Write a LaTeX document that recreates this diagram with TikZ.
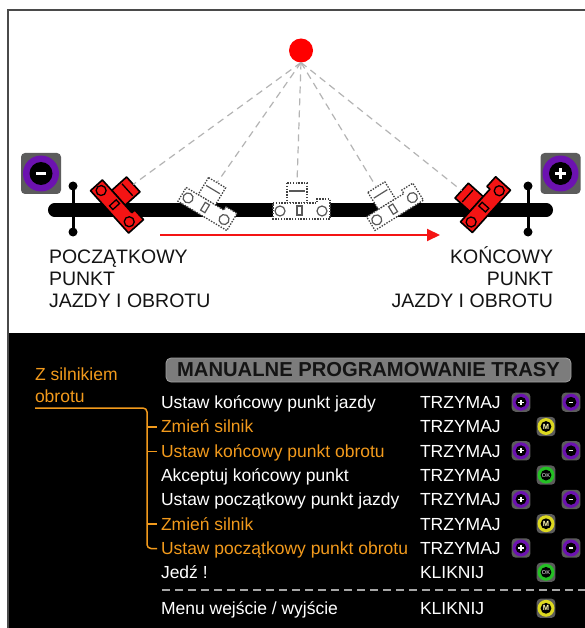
\documentclass[tikz,border=0pt]{standalone}
\usepackage{fontspec}
\setmainfont{Liberation Sans}
\usetikzlibrary{arrows.meta}

\definecolor{ringpurple}{HTML}{6C12B0}
\definecolor{keygray}{HTML}{5C5C5C}
\definecolor{camred}{HTML}{F41414}
\definecolor{motororange}{HTML}{F29A1C}
\definecolor{okgreen}{HTML}{24C024}
\definecolor{myellow}{HTML}{DCD820}
\definecolor{framegray}{HTML}{4A4A4A}
\definecolor{raygray}{HTML}{B4B4B4}
\definecolor{titlegray}{HTML}{7C7C7C}

% body of a round push key: grey plate, coloured ring, black centre
\newcommand{\drawkeybody}[1]{%
  \fill[keygray, rounded corners=4pt] (-20,-20.5) rectangle (20,20.5);
  \fill[#1] (0,0) circle (18);
  \fill[black] (0,0) circle (11.5);
}

\tikzset{
  every node/.style={inner sep=0pt, outer sep=0pt},
  toptext/.style={font=\fontsize{19.5}{22}\selectfont, text=black!92},
  rowtext/.style={font=\fontsize{17.5}{21}\selectfont, text=white, anchor=base west},
  motortext/.style={rowtext, text=motororange},
  titlebox/.style={fill=titlegray, draw=gray!75, line width=0.8pt, rounded corners=5pt,
    minimum width=405pt, minimum height=24pt, text=black!92,
    font=\bfseries\fontsize{20.2}{22}\selectfont},
  track/.style={line width=13pt, line cap=round, draw=black},
  stopbar/.style={line width=3pt, draw=black},
  ray/.style={draw=raygray, line width=1.2pt, dash pattern=on 7pt off 5pt},
  progress/.style={draw=camred, line width=2pt, -{Triangle[length=13pt,width=12pt]}},
  bracket/.style={draw=motororange, line width=1.5pt},
  separator/.style={draw=gray!70, line width=1.2pt, dash pattern=on 8pt off 5pt},
  lamp/.style={circle, fill=red, minimum size=24pt},
  cam shell/.style={},
  cam detail/.style={},
  redcam/.style={cam shell/.style={fill=camred, draw=black, line width=1.6pt, line join=round},
                 cam detail/.style={draw=black, line width=1.3pt}},
  ghostcam/.style={cam shell/.style={fill=white, draw=black!75, line width=1.3pt,
                     dash pattern=on 1.4pt off 1.4pt},
                   cam detail/.style={draw=black!65, line width=1.2pt}},
  pics/camera/.style={code={
    \path[cam shell] (-14.5,-28) rectangle (5.5,-8);
    \path[cam shell] (-28.5,-8) -- (15.5,-8) -- (15.5,-12) -- (28.5,-12)
        -- (28.5,8) -- (-28.5,8) -- cycle;
    \path[cam detail] (-12.5,-20) -- (3.5,-20);
    \path[cam detail] (-21.5,0) circle (5) (20.5,0) circle (5);
    \path[cam detail] (-4.5,-5) rectangle (0.5,4);
    \coordinate (-lens) at (-4.5,-28);
  }},
  pics/keyminus/.style={code={
    \drawkeybody{ringpurple}
    \fill[white] (-4.8,-1.4) rectangle (4.8,1.4);
  }},
  pics/keyplus/.style={code={
    \drawkeybody{ringpurple}
    \fill[white] (-5.5,-1.4) rectangle (5.5,1.4);
    \fill[white] (-1.4,-5.5) rectangle (1.4,5.5);
  }},
  pics/keymotor/.style={code={
    \drawkeybody{myellow}
    \node[text=white!70!yellow, font=\bfseries\fontsize{7.5}{8}\selectfont] (-lbl) at (0,0) {M};
  }},
  pics/keyok/.style={code={
    \drawkeybody{okgreen}
    \node[text=white, font=\fontsize{5.6}{6}\selectfont] (-lbl) at (0,0) {OK};
  }},
  smallkey/.style={scale=0.47},
}

\begin{document}
\begin{tikzpicture}[x=1pt,y=-1pt]
\useasboundingbox (0,0) rectangle (585,628);
\fill[white] (0,0) rectangle (585,628);

% lower panel
\fill[black] (7.5,333) rectangle (585,628);

% rail with end stops
\coordinate (railL) at (54.5,210);
\coordinate (railR) at (546.5,210);
\draw[track] (railL) -- (railR);
\draw[stopbar] (73,186) -- (73,232);
\fill (73,186) circle (4.5) (73,232) circle (4.5);
\draw[stopbar] (528,186) -- (528,232);
\fill (528,186) circle (4.5) (528,232) circle (4.5);

% camera positions along the rail
\pic[ghostcam, rotate=-31] (cA) at (206.5,209) {camera};
\pic[ghostcam] (cB) at (301.5,211) {camera};
\pic[ghostcam, rotate=32] (cC) at (395,208.5) {camera};
\pic[redcam, rotate=-48] (cL) at (115.5,206.5) {camera};
\pic[redcam, rotate=48] (cR) at (485.5,206) {camera};

% subject and sight lines
\node[lamp] (lamp) at (301,50.5) {};
\foreach \c in {cL,cA,cB,cC,cR}
  \draw[ray] (lamp.south) -- (\c-lens);

% direction of travel
\coordinate (arrS) at (160,235);
\coordinate (arrE) at (440,235);
\draw[progress] (arrS) -- (arrE);

% end point keys
\pic (kStart) at (41,173.5) {keyminus};
\pic (kEnd) at (560.5,173.5) {keyplus};

% end point labels
\node[toptext, anchor=base west] (s1) at (49,263) {POCZĄTKOWY};
\node[toptext, anchor=base west] (s2) at (49,285) {PUNKT};
\node[toptext, anchor=base west] (s3) at (49,307) {JAZDY I OBROTU};
\node[toptext, anchor=base east] (e1) at (553,263) {KOŃCOWY};
\node[toptext, anchor=base east] (e2) at (553,285) {PUNKT};
\node[toptext, anchor=base east] (e3) at (553,307) {JAZDY I OBROTU};

% programming table
\node[titlebox] (title) at (368.5,370) {MANUALNE PROGRAMOWANIE TRASY};

\node[motortext] (zs1) at (35,380) {Z silnikiem};
\node[motortext] (zs2) at (35,402) {obrotu};
\draw[bracket, rounded corners=4pt] (35,408) -- (147,408) -- (147,548.5) -- (157,548.5);
\draw[bracket] (147,427) -- (157,427);
\draw[bracket] (147,451.3) -- (157,451.3);
\draw[bracket] (147,524.2) -- (157,524.2);

\node[rowtext]   (r1) at (161,408.5) {Ustaw końcowy punkt jazdy};
\node[motortext] (r2) at (161,432.8) {Zmień silnik};
\node[motortext] (r3) at (161,457.1) {Ustaw końcowy punkt obrotu};
\node[rowtext]   (r4) at (161,481.4) {Akceptuj końcowy punkt};
\node[rowtext]   (r5) at (161,505.7) {Ustaw początkowy punkt jazdy};
\node[motortext] (r6) at (161,530.0) {Zmień silnik};
\node[motortext] (r7) at (161,554.3) {Ustaw początkowy punkt obrotu};
\node[rowtext]   (r8) at (161,578.6) {Jedź !};
\node[rowtext]   (r9) at (161,614.6) {Menu wejście / wyjście};

\node[rowtext] (a1) at (420,408.5) {TRZYMAJ};
\node[rowtext] (a2) at (420,432.8) {TRZYMAJ};
\node[rowtext] (a3) at (420,457.1) {TRZYMAJ};
\node[rowtext] (a4) at (420,481.4) {TRZYMAJ};
\node[rowtext] (a5) at (420,505.7) {TRZYMAJ};
\node[rowtext] (a6) at (420,530.0) {TRZYMAJ};
\node[rowtext] (a7) at (420,554.3) {TRZYMAJ};
\node[rowtext] (a8) at (420,578.6) {KLIKNIJ};
\node[rowtext] (a9) at (420,614.6) {KLIKNIJ};

\pic[smallkey] (k1p) at (521,402.2) {keyplus};
\pic[smallkey] (k1m) at (571,402.2) {keyminus};
\pic[smallkey] (k2)  at (546,426.5) {keymotor};
\pic[smallkey] (k3p) at (521,450.8) {keyplus};
\pic[smallkey] (k3m) at (571,450.8) {keyminus};
\pic[smallkey] (k4)  at (546,475.1) {keyok};
\pic[smallkey] (k5p) at (521,499.4) {keyplus};
\pic[smallkey] (k5m) at (571,499.4) {keyminus};
\pic[smallkey] (k6)  at (546,523.7) {keymotor};
\pic[smallkey] (k7p) at (521,548.0) {keyplus};
\pic[smallkey] (k7m) at (571,548.0) {keyminus};
\pic[smallkey] (k8)  at (546,572.3) {keyok};
\pic[smallkey] (k9)  at (546,608.3) {keymotor};

\coordinate (sepL) at (162,590);
\coordinate (sepR) at (585,590);
\draw[separator] (sepL) -- (sepR);

% outer frame
\draw[framegray, line width=2pt] (585,10) -- (7.5,10) -- (7.5,628);
\end{tikzpicture}
\end{document}
